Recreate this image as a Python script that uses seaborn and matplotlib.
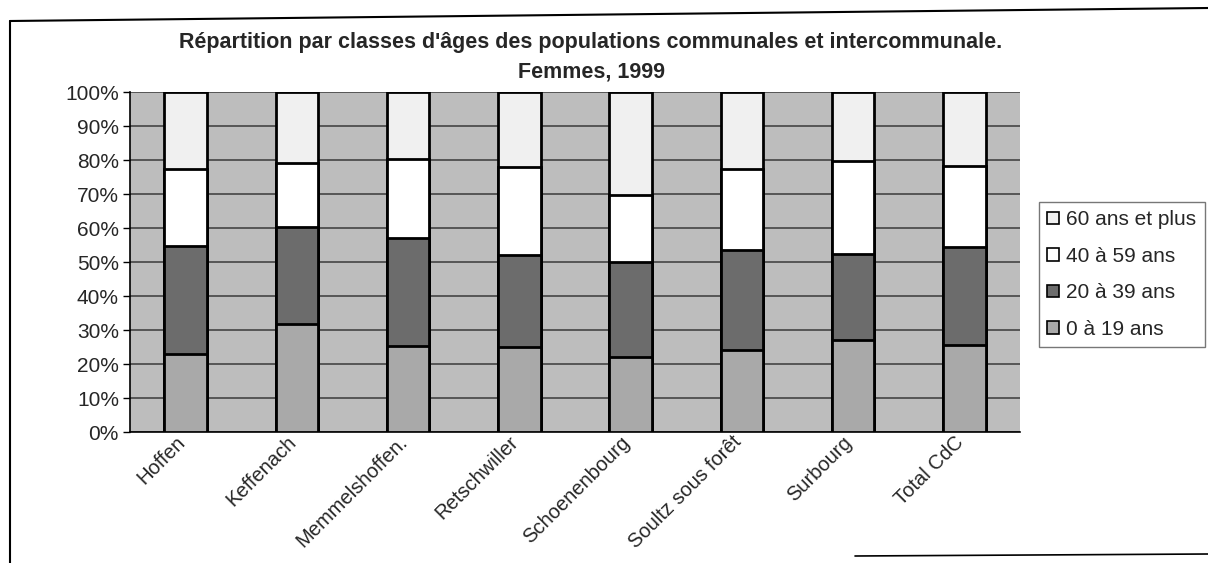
import numpy as np
import pandas as pd
import matplotlib
matplotlib.use("Agg")
import matplotlib.pyplot as plt
import seaborn as sns
from matplotlib.lines import Line2D
from matplotlib.patches import Patch

communes = ["Hoffen", "Keffenach", "Memmelshoffen.", "Retschwiller",
            "Schoenenbourg", "Soultz sous forêt", "Surbourg", "Total CdC"]
groups = ["0 à 19 ans", "20 à 39 ans", "40 à 59 ans", "60 ans et plus"]
age_0_19 = [22.9, 31.7, 25.4, 25.0, 22.1, 24.1, 27.0, 25.6]
age_20_39 = [31.9, 28.7, 31.8, 27.0, 28.0, 29.4, 25.5, 28.9]
age_40_59 = [22.7, 18.8, 23.1, 26.0, 19.6, 23.8, 27.2, 23.7]
age_60_plus = [22.5, 20.8, 19.7, 22.0, 30.3, 22.7, 20.3, 21.8]
title = "Répartition par classes d'âges des populations communales et intercommunale.\nFemmes, 1999"

colors = ["#a9a9a9", "#6c6c6c", "#ffffff", "#f0f0f0"]

sns.set_style("white")
plt.rcParams["font.family"] = ["Liberation Sans", "DejaVu Sans"]

df = pd.DataFrame({"commune": communes, groups[0]: age_0_19, groups[1]: age_20_39,
                   groups[2]: age_40_59, groups[3]: age_60_plus})
vals = df[groups].to_numpy()
vals = vals / vals.sum(axis=1, keepdims=True) * 100
cum = np.cumsum(vals, axis=1)

fig = plt.figure(figsize=(12.08, 5.63), dpi=100)
ax = fig.add_axes([130 / 1208, 1 - 432 / 563, (1020 - 130) / 1208, (432 - 92) / 563])
ax.set_facecolor("#bdbdbd")

for i in range(3, -1, -1):
    sns.barplot(x=df["commune"], y=cum[:, i], color=colors[i], saturation=1,
                width=0.38, edgecolor="black", linewidth=2, ax=ax, zorder=3)

ax.set_ylim(0, 100)
ax.set_xlim(-0.5, len(communes) - 0.5)
ax.set_yticks(np.arange(0, 101, 10))
ax.set_yticklabels([f"{v}%" for v in range(0, 101, 10)], fontsize=15)
ax.set_xticks(range(len(communes)))
ax.set_xticklabels(communes, rotation=45, ha="right", va="baseline",
                   rotation_mode="anchor", fontsize=14.5)
ax.set_xticks(np.arange(-0.5, len(communes), 1), minor=True)
ax.tick_params(axis="x", which="major", length=0, pad=8)
ax.tick_params(axis="x", which="minor", length=5, width=1, color="black", direction="out")
ax.tick_params(axis="y", length=5, width=1, color="black", direction="out", left=True, pad=3)
ax.set_xlabel("")
ax.set_ylabel("")
ax.set_axisbelow(True)
ax.yaxis.grid(True, color="#3a3a3a", linewidth=1.1)
for s in ["top", "right"]:
    ax.spines[s].set_visible(False)
for s in ["left", "bottom"]:
    ax.spines[s].set_color("black")
    ax.spines[s].set_linewidth(1.2)

fig.text(591 / 1208, 1 - 57 / 563, title, ha="center", va="center",
         fontsize=15.5, fontweight="bold", linespacing=1.55)

handles = [Patch(facecolor=colors[i], edgecolor="black", linewidth=1.2) for i in range(3, -1, -1)]
labels = [groups[i] for i in range(3, -1, -1)]
leg = fig.legend(handles, labels, loc="upper left",
                 bbox_to_anchor=(1039 / 1208, 1 - 202 / 563),
                 frameon=True, fancybox=False, edgecolor="#555555", fontsize=15,
                 handlelength=0.55, handleheight=0.55, handletextpad=0.35,
                 labelspacing=0.84, borderpad=0.4, borderaxespad=0)
leg.get_frame().set_linewidth(1)

fig.add_artist(Line2D([10 / 1208, 1.0], [1 - 21 / 563, 1 - 8 / 563], color="black", lw=1.5))
fig.add_artist(Line2D([10 / 1208, 10 / 1208], [1 - 21 / 563, 0.0], color="black", lw=1.5))
fig.add_artist(Line2D([855 / 1208, 1.0], [1 - 556 / 563, 1 - 554 / 563], color="black", lw=1.2))

fig.savefig("out.png", dpi=100)
